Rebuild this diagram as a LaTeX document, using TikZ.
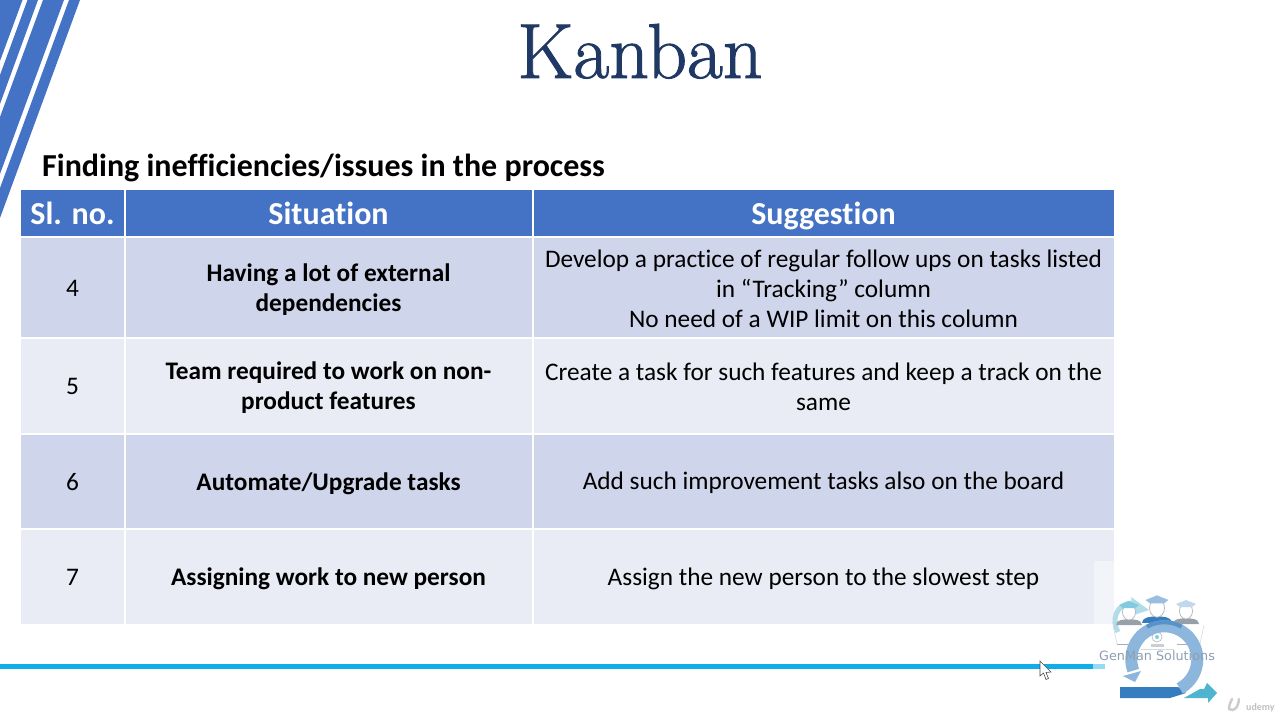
\documentclass[tikz,border=0pt]{standalone}
\usepackage{fontspec}
\setmainfont[Ligatures=NoCommon]{Carlito}
\newfontfamily\titlefont[FakeBold=1.2]{Latin Modern Roman}
\newfontfamily\logofont{DejaVu Sans}
\definecolor{hdr}{HTML}{4472C4}
\definecolor{rowa}{HTML}{CFD5EA}
\definecolor{rowb}{HTML}{E9EBF5}
\definecolor{titlec}{HTML}{1F3864}
\definecolor{lineblue}{HTML}{0FAEE9}
\definecolor{logoa}{HTML}{8DB6DD}
\definecolor{logob}{HTML}{1F6FB7}
\definecolor{logoc}{HTML}{4FB4CE}
\definecolor{logog}{HTML}{8C959E}
\colorlet{capa}{logoc!70}
\colorlet{capb}{logob!45}
\colorlet{capc}{logoa!55}
\tikzset{
  x=1pt,y=-1pt,
  body/.style={font=\fontsize{25.3}{30}\selectfont,align=center,text=black},
  bodyb/.style={font=\fontsize{25.3}{30}\selectfont\bfseries,align=center,text=black},
  head/.style={font=\fontsize{32}{34}\selectfont\bfseries,text=white,align=center,anchor=base},
  stripe/.style={fill=hdr,draw=none},
}
\begin{document}
\begin{tikzpicture}
\useasboundingbox (0,0) rectangle (1280,720);
% corner stripes
\fill[stripe] (0,0) -- (22.5,0) -- (0,61) -- cycle;
\fill[stripe] (27.5,0) -- (38,0) -- (0,104) -- (0,75) -- cycle;
\fill[stripe] (43,0) -- (64,0) -- (0,174) -- (0,117) -- cycle;
\fill[stripe] (69,0) -- (80,0) -- (0,218) -- (0,188) -- cycle;
% title
\node[font=\titlefont\fontsize{78}{80}\selectfont,text=titlec,anchor=base] (title) at (640,78) {Kanban};
\node[font=\fontsize{32}{34}\selectfont\bfseries,anchor=base west,inner sep=0pt] (sub) at (42,176) {Finding inefficiencies/issues in the process};
% table fills
\foreach \xa/\xb in {21/124,126/532,534/1114}{
  \fill[hdr] (\xa,190) rectangle (\xb,236);
  \fill[rowa] (\xa,238) rectangle (\xb,337);
  \fill[rowb] (\xa,338.5) rectangle (\xb,433);
  \fill[rowa] (\xa,434.5) rectangle (\xb,528);
  \fill[rowb] (\xa,529.5) rectangle (\xb,624);
}
\node[head] (h1) at (72.5,224) {Sl. no.};
\node[head] (h2) at (328.5,224) {Situation};
\node[head] (h3) at (823.5,224) {Suggestion};
\node[body] (n4) at (72.5,288.5) {4};
\node[body] (n5) at (72.5,386.5) {5};
\node[body] (n6) at (72.5,482.5) {6};
\node[body] (n7) at (72.5,577.5) {7};
\node[bodyb] (s4) at (328.5,290) {Having a lot of external\\dependencies};
\node[bodyb] (s5) at (328.5,388) {Team required to work on non-\\product features};
\node[bodyb] (s6) at (328.5,484) {Automate/Upgrade tasks};
\node[bodyb] (s7) at (328.5,579) {Assigning work to new person};
\node[body] (g4) at (823.5,288.5) {Develop a practice of regular follow ups on tasks listed\\in “Tracking” column\\No need of a WIP limit on this column};
\node[body] (g5) at (823.5,386.5) {Create a task for such features and keep a track on the\\same};
\node[body] (g6) at (823.5,483) {Add such improvement tasks also on the board};
\node[body] (g7) at (823.5,578.5) {Assign the new person to the slowest step};
% bottom line
\fill[lineblue] (0,664) rectangle (1093,669);
\fill[lineblue!45] (1093,664) rectangle (1105,669);
% logo
\fill[white,opacity=.45] (1094,561) rectangle (1114,624);
% small teal arrow behind the left head
\draw[logoc!45,line width=5pt] (1118,632) .. controls (1111,620) and (1116,604) .. (1132,603);
\fill[logoc!45] (1131,597) -- (1149,610) -- (1134,615) -- cycle;
% people
\foreach \cx/\cy/\s/\c/\k in {1129/612/1/capa/logog,1157/608/1.15/capb/logob,1186/611/1/capc/logog}{
  \fill[\k!90] (\cx-13*\s,\cy+13*\s) .. controls (\cx-12*\s,\cy+7*\s) and (\cx-6*\s,\cy+8*\s) .. (\cx,\cy+7*\s) .. controls (\cx+6*\s,\cy+8*\s) and (\cx+12*\s,\cy+7*\s) .. (\cx+13*\s,\cy+13*\s) -- cycle;
  \draw[logog!70,line width=.7pt,fill=white] (\cx,\cy) ellipse[x radius=6.5*\s,y radius=8*\s];
  \fill[\c] (\cx-10*\s,\cy-7*\s) -- (\cx,\cy-11*\s) -- (\cx+10*\s,\cy-7*\s) -- (\cx+6*\s,\cy-4*\s) -- (\cx-6*\s,\cy-4*\s) -- cycle;
}
% laptop lines
\draw[logog!35,line width=.6pt] (1113,625) -- (1117,644);
\draw[logog!35,line width=.6pt] (1204,625) -- (1200,644);
\draw[logog!75,line width=1pt] (1117,644) -- (1138,644);
\draw[logog!75,line width=1pt] (1177,644) -- (1200,644);
\draw[logog!35,line width=.6pt] (1141,649) -- (1174,649);
% webcam
\draw[logog!70,line width=.6pt,fill=white] (1157,637) circle[radius=5];
\fill[logoc!70] (1157,637) circle[radius=2];
\fill[logog!45] (1151,644) rectangle (1164,647);
% circular arrow
\fill[logob!90] (1120,687) -- (1178,687) -- (1186,693) -- (1170,698) -- (1120,698) -- cycle;
\draw[logoa,line width=12pt] (1164.3,659.3) ++(62:33) arc[start angle=62,end angle=-200,radius=33];
\draw[logob!75,line width=4pt] (1164.3,659.3) ++(-118:37) arc[start angle=-118,end angle=-62,radius=37];
\fill[logoa] (1123,676) -- (1141,671) -- (1135,682) -- cycle;
% forward arrow
\fill[logoc] (1184,698) -- (1200,689) -- (1204,689) -- (1207,683) -- (1217,693) -- (1208,703) -- (1208,698) -- cycle;
\node[font=\logofont\fontsize{12.8}{14}\selectfont,text=logog!70!logoa,inner sep=0pt] (brand) at (1157,656) {GenMan Solutions};
% cursor
\draw[black!70,fill=white,line width=.6pt] (1040,661) -- (1040,676) -- (1043.5,673) -- (1046,679.5) -- (1048.5,678.5) -- (1046,672.5) -- (1051,672) -- cycle;
% udemy watermark
\node[font=\fontsize{10}{10}\selectfont\bfseries,text=black!25,anchor=base west,inner sep=0pt] (udemy) at (1246,710) {udemy};
\draw[black!20,line width=2.5pt,line cap=round] (1229,709) .. controls (1229,704) and (1231,702) .. (1232,699);
\draw[black!20,line width=2.5pt,line cap=round] (1229,709) .. controls (1234,712) and (1238,708) .. (1239,699);
\end{tikzpicture}
\end{document}
